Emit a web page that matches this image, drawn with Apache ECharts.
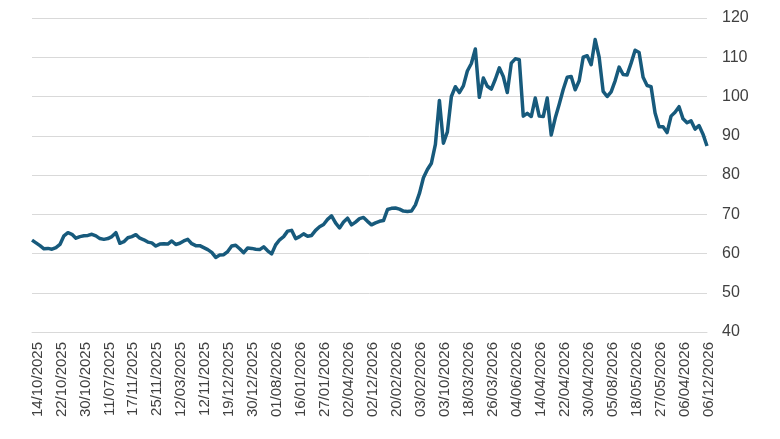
<!DOCTYPE html>
<html>
<head>
<meta charset="utf-8">
<script src="https://cdn.jsdelivr.net/npm/echarts@6/dist/echarts.min.js"></script>
<style>
  html, body { margin: 0; padding: 0; background: #fff; }
  #chart { width: 780px; height: 439px; }
</style>
</head>
<body>
<div id="chart"></div>
<script>
// tick labels, one every 6 trading days (as printed on the original)
const tickLabels = [
  '14/10/2025', '22/10/2025', '30/10/2025', '11/07/2025', '17/11/2025', '25/11/2025',
  '12/03/2025', '12/11/2025', '19/12/2025', '30/12/2025', '01/08/2026', '16/01/2026',
  '27/01/2026', '02/04/2026', '02/12/2026', '20/02/2026', '03/02/2026', '03/10/2026',
  '18/03/2026', '26/03/2026', '04/06/2026', '14/04/2026', '22/04/2026', '30/04/2026',
  '05/08/2026', '18/05/2026', '27/05/2026', '06/04/2026', '06/12/2026'
];
const pointsPerTick = 6;
const firstTick = 1; // the series starts one day before the first label

// daily values
const values = [
  63.4, 62.7, 62.0, 61.2, 61.3, 61.1, 61.5, 62.3, 64.5, 65.3,
  64.9, 63.9, 64.3, 64.5, 64.6, 64.9, 64.5, 63.8, 63.6, 63.8,
  64.3, 65.3, 62.6, 63.0, 64.0, 64.3, 64.8, 63.9, 63.5, 62.9,
  62.7, 61.9, 62.4, 62.5, 62.4, 63.2, 62.3, 62.6, 63.2, 63.6,
  62.5, 62.0, 62.0, 61.5, 61.0, 60.3, 59.0, 59.6, 59.7, 60.5,
  61.9, 62.1, 61.2, 60.2, 61.4, 61.3, 61.1, 61.0, 61.7, 60.7,
  59.9, 62.2, 63.5, 64.3, 65.7, 65.9, 63.8, 64.3, 65.0, 64.4,
  64.6, 65.9, 66.8, 67.4, 68.7, 69.6, 67.8, 66.5, 68.0, 69.0,
  67.3, 68.0, 68.9, 69.2, 68.2, 67.3, 67.8, 68.2, 68.4, 71.2,
  71.5, 71.6, 71.3, 70.8, 70.7, 70.8, 72.4, 75.3, 79.3, 81.4,
  83.0, 87.8, 99.0, 88.1, 91.0, 100.0, 102.5, 101.0, 102.7, 106.5,
  108.4, 112.1, 99.8, 104.7, 102.6, 101.9, 104.4, 107.3, 105.1, 101.0,
  108.5, 109.6, 109.4, 95.0, 95.7, 94.9, 99.6, 95.0, 94.9, 99.6,
  90.2, 94.5, 98.0, 101.8, 104.9, 105.1, 101.7, 104.0, 110.0, 110.4,
  108.1, 114.5, 110.0, 101.3, 100.0, 101.2, 104.0, 107.5, 105.6, 105.5,
  108.5, 111.8, 111.2, 104.9, 102.8, 102.5, 95.8, 92.3, 92.3, 90.8,
  95.0, 96.0, 97.4, 94.3, 93.3, 93.8, 91.7, 92.6, 90.4, 87.4
];

// one category per point; only every 6th one carries a printed label
const categories = values.map(function (v, i) {
  const k = i - firstTick;
  if (k < 0) return tickLabels[0] + ' -' + (-k);
  const t = tickLabels[Math.floor(k / pointsPerTick)];
  return k % pointsPerTick === 0 ? t : t + ' +' + (k % pointsPerTick);
});

const chart = echarts.init(document.getElementById('chart'), null, { renderer: 'canvas' });

chart.setOption({
  backgroundColor: '#ffffff',
  animation: false,
  textStyle: { fontFamily: 'Liberation Sans, Arial, sans-serif' },
  grid: { left: 32, right: 73, top: 18, bottom: 107, containLabel: false },
  xAxis: {
    type: 'category',
    data: categories,
    boundaryGap: false,
    axisLine: { show: true, lineStyle: { color: '#d9d9d9', width: 1 } },
    axisTick: { show: false },
    axisLabel: {
      rotate: 90,
      margin: 10,
      fontSize: 15,
      color: '#404040',
      verticalAlign: 'top',
      lineHeight: 3,
      interval: function (index) {
        return index >= firstTick && (index - firstTick) % pointsPerTick === 0;
      }
    },
    splitLine: { show: false }
  },
  yAxis: {
    type: 'value',
    position: 'right',
    min: 40,
    max: 120,
    interval: 10,
    axisLine: { show: false },
    axisTick: { show: false },
    axisLabel: { margin: 15, fontSize: 16, color: '#404040' },
    splitLine: { lineStyle: { color: '#d9d9d9', width: 1 } }
  },
  series: [{
    type: 'line',
    data: values,
    symbol: 'none',
    smooth: false,
    lineStyle: { color: '#175a7c', width: 3.5, join: 'round' },
    itemStyle: { color: '#175a7c' }
  }]
});
</script>
</body>
</html>
